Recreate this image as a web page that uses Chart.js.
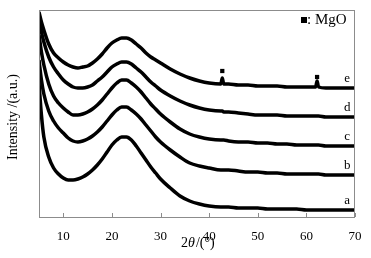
<!DOCTYPE html>
<html lang="en">
<head>
<meta charset="UTF-8">
<title>XRD patterns</title>
<script src="https://cdn.jsdelivr.net/npm/chart.js"></script>
<style>
  html, body { margin: 0; padding: 0; background: #fff; }
  #wrap { width: 371px; height: 258px; }
</style>
</head>
<body>
<div id="wrap"><canvas id="xrd" width="371" height="258"></canvas></div>
<script>
// 2theta grid (degrees)
const twoTheta = [5,5.5,6,7,8,9,10,11,12,13,14,15,16,17,18,19,20,21,22,23,24,25,26,27,28,29,30,32,34,36,38,40,42.4,42.7,43.0,44,46,48,50,52,54,56,58,60,61.9,62.2,62.5,64,66,68,70];

// intensity (a.u., offset stacked)
const curveA = [134,102,80,60,49,43,39,37,37,38,40,43,47,52,58,65,72,77,80,80,77,71,64,57,50,44,38,29,21,16,13,11,10,10,10,10,9,9,9,8,8,8,8,7,7,7,7,7,7,7,7];
const curveB = [157,137,123,106,96,89,84,79,76,75,76,78,81,85,90,96,102,107,110,110,107,103,98,92,86,80,75,67,60,54,51,49,47,47,47,47,46,45,45,44,44,43,43,43,43,43,43,42,42,42,42];
const curveC = [182,165,152,133,121,114,109,105,102,102,103,105,108,112,117,123,129,134,137,137,134,130,125,119,113,108,103,95,88,83,80,78,77,77,77,76,75,75,74,74,73,73,72,72,72,72,72,71,71,71,71];
const curveD = [199,185,175,160,150,143,137,133,130,129,129,130,132,136,140,145,150,153,155,155,153,149,145,140,135,131,127,121,116,112,109,107,106,106,105,105,104,103,102,102,102,101,101,101,101,101,101,100,100,100,100];
const curveE = [205,195,187,173,164,159,155,152,150,149,150,151,154,158,163,169,174,177,179,179,177,173,169,164,160,157,154,148,143,139,136,134,133,139,133,133,132,132,131,131,131,130,130,130,130,136,130,129,129,129,129];

const curveNames = ["a", "b", "c", "d", "e"];
const curves = [curveA, curveB, curveC, curveD, curveE];

// MgO reflections on curve e
const mgoX = [42.7, 62.2];
const mgoY = [146, 140];

const xTicks = [10, 20, 30, 40, 50, 60, 70];

const serif = "'Liberation Serif', 'Times New Roman', serif";

const datasets = curves.map((c, i) => ({
  label: curveNames[i],
  data: twoTheta.map((x, j) => ({ x: x, y: c[j] })),
  borderColor: "#000",
  borderWidth: 3.5,
  pointRadius: 0,
  cubicInterpolationMode: "monotone",
  fill: false
}));
datasets.push({
  label: "MgO",
  type: "scatter",
  data: mgoX.map((x, i) => ({ x: x, y: mgoY[i] })),
  pointStyle: "rect",
  pointRadius: 3,
  backgroundColor: "#000",
  borderColor: "#000",
  borderWidth: 0
});

const decor = {
  id: "decor",
  afterDraw(chart) {
    const ctx = chart.ctx;
    const a = chart.chartArea;
    const xs = chart.scales.x, ys = chart.scales.y;
    ctx.save();
    // frame
    ctx.strokeStyle = "#8c8c8c";
    ctx.lineWidth = 1;
    ctx.strokeRect(a.left + 0.5, a.top + 0.5, a.right - a.left - 1, a.bottom - a.top);
    // inward ticks
    ctx.beginPath();
    xTicks.forEach(v => {
      const px = Math.round(xs.getPixelForValue(v)) + 0.5;
      ctx.moveTo(px, a.bottom);
      ctx.lineTo(px, a.bottom - 4);
    });
    ctx.stroke();
    // curve labels
    ctx.fillStyle = "#000";
    ctx.font = "13px " + serif;
    ctx.textAlign = "center";
    ctx.textBaseline = "bottom";
    curves.forEach((c, i) => {
      const px = xs.getPixelForValue(68.4);
      const py = ys.getPixelForValue(c[c.length - 1]) - 3;
      ctx.fillText(curveNames[i], px, py);
    });
    // legend
    ctx.fillRect(301, 17, 6, 6);
    ctx.textAlign = "left";
    ctx.textBaseline = "middle";
    ctx.font = "15px " + serif;
    ctx.fillText(": MgO", 307, 20);
    // x title with italic theta
    ctx.font = "14px " + serif;
    ctx.textBaseline = "middle";
    const y0 = 243;
    let x0 = 181;
    ctx.fillText("2", x0, y0);
    x0 += ctx.measureText("2").width;
    ctx.font = "italic 14px " + serif;
    ctx.fillText("\u03b8", x0, y0);
    x0 += ctx.measureText("\u03b8").width + 1;
    ctx.font = "14px " + serif;
    ctx.fillText("/(\u00b0)", x0, y0);
    // y title
    ctx.translate(13, 117);
    ctx.rotate(-Math.PI / 2);
    ctx.textAlign = "center";
    ctx.font = "14px " + serif;
    ctx.fillText("Intensity /(a.u.)", 0, 0);
    ctx.restore();
  }
};

new Chart(document.getElementById("xrd"), {
  type: "line",
  data: { datasets: datasets },
  options: {
    responsive: false,
    animation: false,
    layout: { padding: { top: 10, right: 16, left: 0, bottom: 0 } },
    plugins: { legend: { display: false }, tooltip: { enabled: false } },
    scales: {
      x: {
        type: "linear",
        min: 5,
        max: 70,
        afterBuildTicks: s => { s.ticks = xTicks.map(v => ({ value: v })); },
        afterFit: s => { s.height = 41; },
        grid: { display: false },
        border: { display: false },
        ticks: { color: "#000", font: { family: serif, size: 13 }, padding: 4, maxRotation: 0 }
      },
      y: {
        min: 0,
        max: 207,
        afterFit: s => { s.width = 39; },
        grid: { display: false },
        border: { display: false },
        ticks: { display: false }
      }
    }
  },
  plugins: [decor]
});
</script>
</body>
</html>
